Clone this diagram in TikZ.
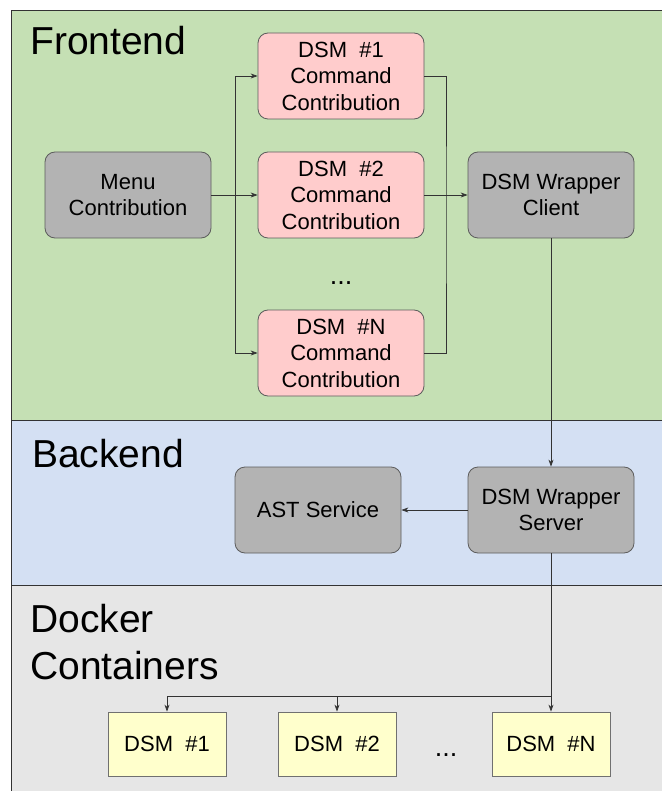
\documentclass[tikz,border=0pt]{standalone}
\usepackage{fontspec}
\setmainfont{Liberation Sans}
\usetikzlibrary{arrows.meta}
\definecolor{frontbg}{HTML}{C5E0B4}
\definecolor{backbg}{HTML}{D4E0F3}
\definecolor{dockbg}{HTML}{E6E6E6}
\definecolor{pinkbox}{HTML}{FFCCCC}
\definecolor{graybox}{HTML}{B3B3B3}
\definecolor{yellowbox}{HTML}{FFFFCC}
\definecolor{edge}{HTML}{333333}
\begin{document}
\begin{tikzpicture}[x=1pt,y=-1pt,
  layer/.style={draw=edge,line width=0.8pt},
  layerlabel/.style={anchor=base west,inner sep=0pt,font=\fontsize{39}{47}\selectfont,align=left},
  boxtext/.style={font=\fontsize{22}{26.5}\selectfont,align=center,inner sep=0pt},
  dotstext/.style={font=\fontsize{27}{30}\selectfont,inner sep=0pt},
  cmdbox/.style={boxtext,draw=edge!80,line width=0.8pt,fill=pinkbox,rounded corners=10pt,minimum width=166pt,minimum height=86pt},
  grbox/.style={boxtext,draw=edge!80,line width=0.8pt,fill=graybox,rounded corners=10pt,minimum width=166pt,minimum height=86pt},
  dsmbox/.style={boxtext,draw=edge!70,line width=0.8pt,fill=yellowbox,minimum width=118pt,minimum height=64pt},
  conn/.style={draw=edge,line width=0.7pt},
  arr/.style={conn,-{Stealth[length=7pt,width=5pt]}}
]
\useasboundingbox (0,0) rectangle (661,791);
% layers
\fill[frontbg] (11,10) rectangle (670,420);
\fill[backbg] (11,420) rectangle (670,585);
\fill[dockbg] (11,585) rectangle (670,795);
\draw[layer] (11,10) rectangle (670,420);
\draw[layer] (11,420) rectangle (670,585);
\draw[layer] (11,585) rectangle (670,795);
\node[layerlabel] (lfront) at (30,55) {Frontend};
\node[layerlabel] (lback) at (32,467) {Backend};
\node[layerlabel] (ldock) at (30,632) {Docker};
\node[layerlabel] (ldock2) at (30,679) {Containers};
% frontend nodes
\node[grbox] (menu) at (128,195) {Menu\\Contribution};
\node[cmdbox] (c1) at (341,76) {DSM\ \ \#1\\Command\\Contribution};
\node[cmdbox] (c2) at (341,195) {DSM\ \ \#2\\Command\\Contribution};
\node[dotstext,anchor=base] (cdots) at (341,284) {...};
\node[cmdbox] (cN) at (341,353) {DSM\ \ \#N\\Command\\Contribution};
\node[grbox] (client) at (551,195) {DSM Wrapper\\Client};
% backend nodes
\node[grbox] (ast) at (318,510) {AST Service};
\node[grbox] (server) at (551,510) {DSM Wrapper\\Server};
% docker nodes
\node[dsmbox] (d1) at (167,744) {DSM\ \ \#1};
\node[dsmbox] (d2) at (337,744) {DSM\ \ \#2};
\node[dotstext,anchor=base] (ddots) at (446,756) {...};
\node[dsmbox] (dN) at (551,744) {DSM\ \ \#N};
% connectors
\coordinate (jl) at (235,195);
\coordinate (jr) at (446,215);
\coordinate (bus) at (551,696);
\draw[conn] (menu.east) -- (jl);
\draw[arr] (jl) |- (c1.west);
\draw[arr] (jl) -- (c2.west);
\draw[arr] (jl) |- (cN.west);
\draw[conn] (c1.east) -| (jr) |- (cN.east);
\draw[arr] (c2.east) -- (client.west);
\draw[arr] (client.south) -- (server.north);
\draw[arr] (server.west) -- (ast.east);
\draw[arr] (server.south) -- (dN.north);
\draw[arr] (bus) -| (d1.north);
\draw[arr] (bus) -| (d2.north);
\end{tikzpicture}
\end{document}
